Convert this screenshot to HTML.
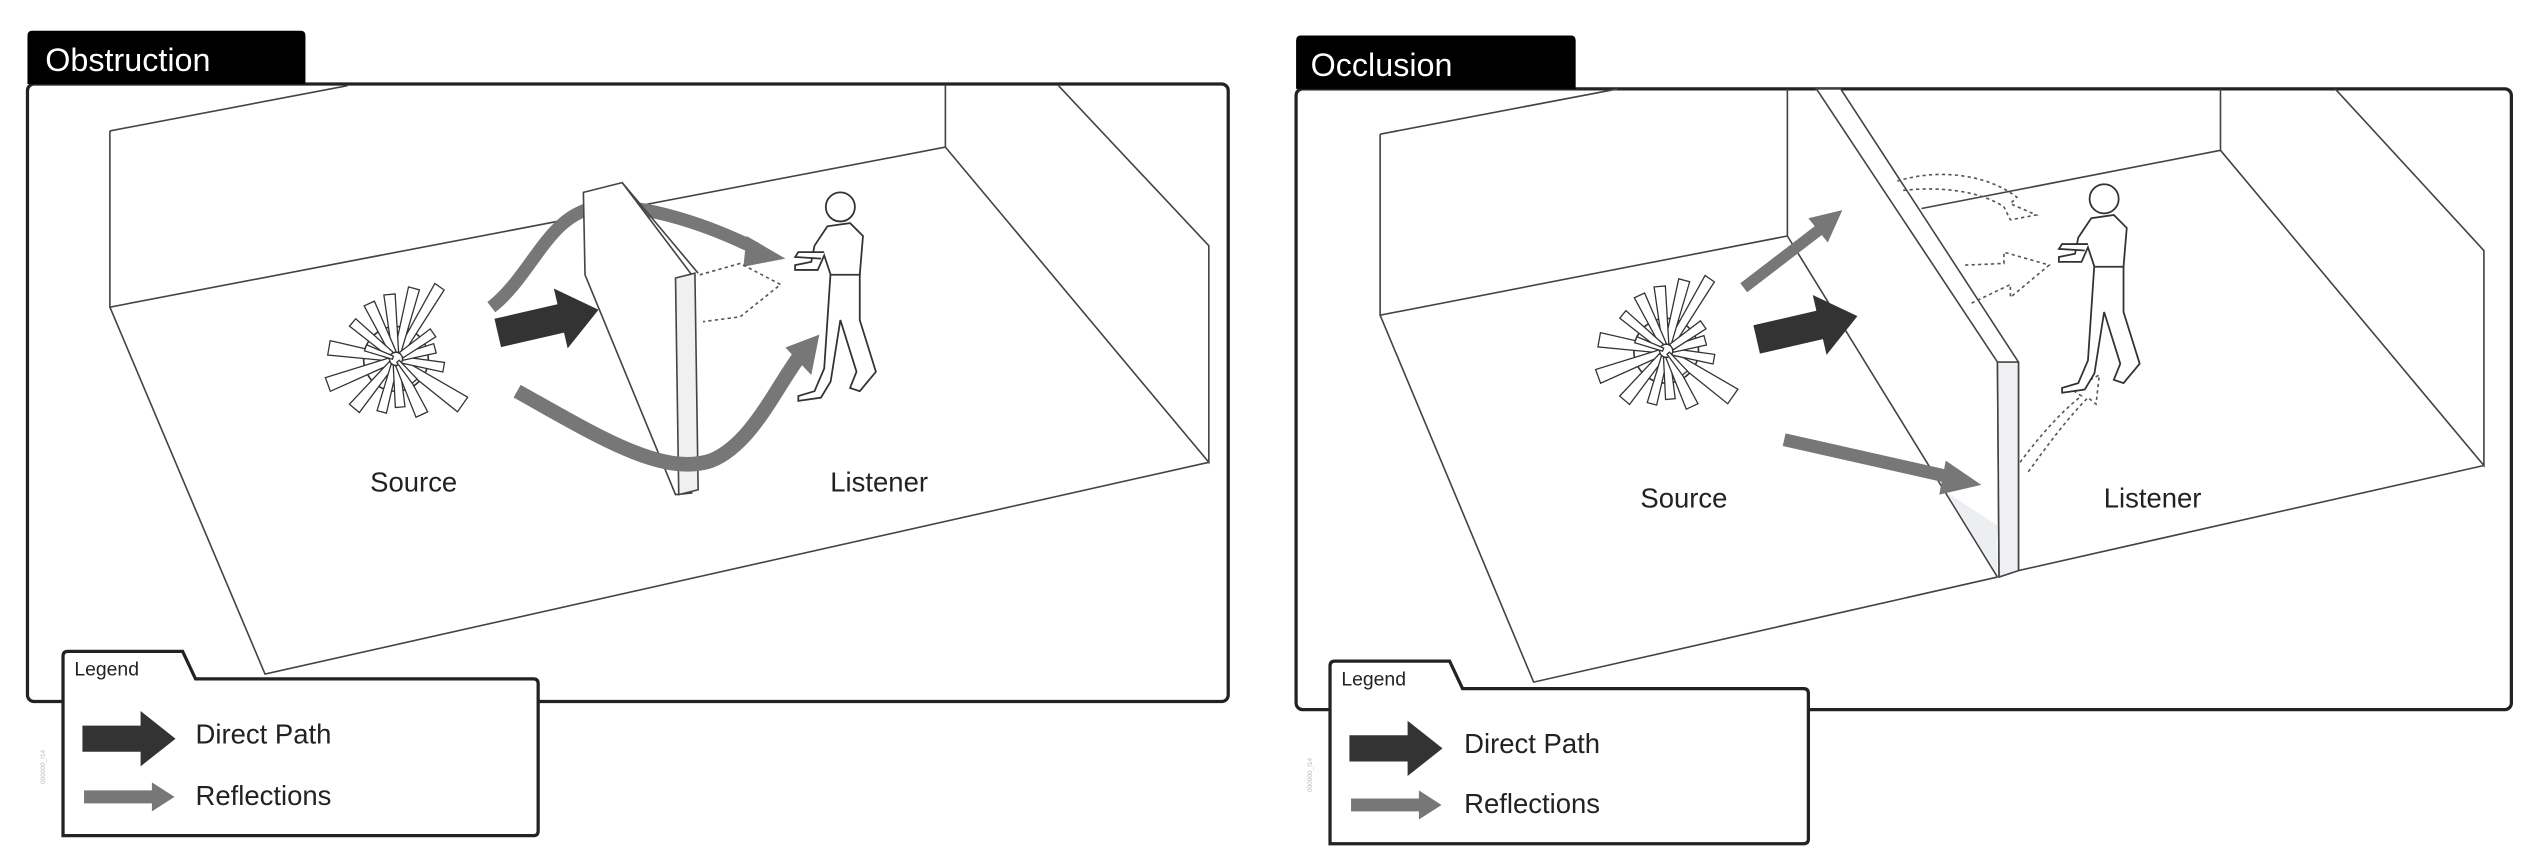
<!DOCTYPE html>
<html><head><meta charset="utf-8"><style>
html,body{margin:0;padding:0;background:#fff;width:2534px;height:868px;overflow:hidden}
svg{display:block}
text{font-family:"Liberation Sans",Arial,sans-serif}
</style></head><body>
<svg width="2534" height="868" viewBox="0 0 1568 537" preserveAspectRatio="none" xmlns="http://www.w3.org/2000/svg">
<defs>
<g id="burst" stroke="#333" stroke-width="0.8" fill="#fff">
<circle r="20" fill="none" stroke-width="1"/>
<polygon points="4,-2 52,-7 52,0 4,2" transform="rotate(-55)"/>
<polygon points="4,-2 45,-4 45,3 4,2" transform="rotate(-75)"/>
<polygon points="4,-2 40,-4 40,3 4,2" transform="rotate(-95)"/>
<polygon points="4,-2 38,-4 38,3 4,2" transform="rotate(-115)"/>
<polygon points="4,-2 35,-3 35,3 4,2" transform="rotate(-140)"/>
<polygon points="4,-2 42,-5 42,4 4,2" transform="rotate(-170)"/>
<polygon points="4,-2 45,-5 45,4 4,2" transform="rotate(160)"/>
<polygon points="4,-2 40,-4 40,4 4,2" transform="rotate(130)"/>
<polygon points="4,-2 34,-3 34,3 4,2" transform="rotate(105)"/>
<polygon points="4,-2 30,-3 30,3 4,2" transform="rotate(85)"/>
<polygon points="4,-2 38,-4 38,4 4,2" transform="rotate(65)"/>
<polygon points="4,-2 50,-6 50,5 4,2" transform="rotate(35)"/>
<polygon points="4,-2 30,-3 30,3 4,2" transform="rotate(10)"/>
<polygon points="4,-2 25,-3 25,3 4,2" transform="rotate(-15)"/>
<polygon points="4,-2 28,-3 28,3 4,2" transform="rotate(-35)"/>
<polygon points="2,-1 20,-2 20,2 2,1" transform="rotate(-160)"/>
<polygon points="2,-1 18,-2 18,2 2,1" transform="rotate(50)"/>
</g>
<path id="direct" d="M0,-9 L40,-9 L40,-19 L64,0 L40,19 L40,9 L0,9 Z" fill="#333"/>
<g id="person" fill="#fff" stroke="#333" stroke-width="1.1">
<path d="M14,50 L10,110 L4,124 L-6,127 L-6,130 L8,128 L14,118 L20,80 L30,112 L26,122 L32,124 L42,112 L32,80 L32,50 Z"/>
<path d="M12,22 L4,34 L2,44 L-8,46 L-8,49 L6,49 L10,40 L14,52 L32,52 L34,28 L26,20 Z"/>
<circle cx="20" cy="10" r="9"/>
<path d="M10,38 L-6,38 L-8,41 L8,42" />
</g>
</defs>

<!-- ================= LEFT PANEL ================= -->
<rect x="17" y="52" width="743" height="382" rx="4" fill="#fff" stroke="#222" stroke-width="2"/>
<path d="M17,52 L17,22 Q17,19 20,19 L186,19 Q189,19 189,22 L189,52 Z" fill="#000"/>
<text x="28" y="44" font-size="20" fill="#fff">Obstruction</text>

<g stroke="#444" stroke-width="1" fill="none">
<path d="M68,81 L215,53"/>
<path d="M68,81 L68,190 L585,91 L585,53"/>
<path d="M585,91 L748,286 L748,152 L655,53"/>
<path d="M68,190 L164,417 L748,286"/>
</g>

<!-- gray curves (behind wall) -->
<path d="M304,190 C330,170 340,130 372,128 C400,126 440,140 468,154" stroke="#777" stroke-width="8" fill="none"/>
<polygon points="462,146 486,160 460,165" fill="#777"/>

<!-- wall -->
<polygon points="361,119 385,113 428,170 428,305 418,306 362,170" fill="#fff" stroke="#444" stroke-width="1"/>
<polygon points="418,172 430,169 432,303 420,306" fill="#f0f0f2" stroke="#444" stroke-width="1"/>
<path d="M385,113 L432,169" stroke="#444" fill="none"/>

<use href="#burst" x="245" y="222"/>

<path d="M320,242 C370,270 410,295 440,285 C465,275 480,240 495,220" stroke="#777" stroke-width="9" fill="none"/>
<polygon points="486,215 507,207 502,232" fill="#777"/>
<use href="#direct" transform="translate(308,206) rotate(-13)"/>
<polyline points="433,170 458,163 483,176 458,196 435,199" fill="none" stroke="#555" stroke-width="1" stroke-dasharray="2,2"/>

<use href="#person" x="500" y="118"/>

<text x="256" y="304" font-size="17" text-anchor="middle" fill="#222">Source</text>
<text x="544" y="304" font-size="17" text-anchor="middle" fill="#222">Listener</text>

<!-- legend -->
<path d="M39,517 L39,406 Q39,403 42,403 L113,403 L121,420 L330,420 Q333,420 333,423 L333,514 Q333,517 330,517 Z" fill="#fff" stroke="#222" stroke-width="2"/>
<text x="46" y="418" font-size="12" fill="#222">Legend</text>
<use href="#direct" transform="translate(51,457) scale(0.9,0.9)"/>
<path d="M52,489 L94,489 L94,484 L108,493 L94,502 L94,497 L52,497 Z" fill="#777"/>
<text x="121" y="460" font-size="17" fill="#222">Direct Path</text>
<text x="121" y="498" font-size="17" fill="#222">Reflections</text>
<text x="28" y="485" font-size="4" fill="#bbb" transform="rotate(-90 28 485)">000000_f14</text>

<!-- ================= RIGHT PANEL ================= -->
<rect x="802" y="55" width="752" height="384" rx="4" fill="#fff" stroke="#222" stroke-width="2"/>
<path d="M802,55 L802,25 Q802,22 805,22 L972,22 Q975,22 975,25 L975,55 Z" fill="#000"/>
<text x="811" y="47" font-size="20" fill="#fff">Occlusion</text>

<g stroke="#444" stroke-width="1" fill="none">
<path d="M854,83 L1001,55"/>
<path d="M854,83 L854,195 L1106,146 L1106,55"/>
<path d="M1106,146 L1236,357"/>
<path d="M854,195 L949,422 L1236,357"/>
<path d="M1189,129 L1374,93 L1374,55"/>
<path d="M1374,93 L1537,288 L1537,155 L1445,55"/>
<path d="M1249,353 L1537,288"/>
</g>
<!-- partition -->
<polygon points="1124,55 1139,55 1249,224 1249,353 1237,357 1236,224" fill="#fff" stroke="#444" stroke-width="1"/>
<polygon points="1236,224 1249,224 1249,353 1237,357" fill="#f0f0f2" stroke="#444" stroke-width="1"/>
<polygon points="1205,305 1236,325 1236,355" fill="#eceef2"/>

<use href="#burst" x="1031" y="217"/>

<path d="M1079,178 L1126,142" stroke="#777" stroke-width="7" fill="none"/>
<polygon points="1119,135 1140,130 1131,150" fill="#777"/>
<path d="M1104,272 L1206,295" stroke="#777" stroke-width="8" fill="none"/>
<polygon points="1204,285 1226,300 1200,306" fill="#777"/>
<use href="#direct" transform="translate(1087,210) rotate(-13)"/>

<g fill="none" stroke="#555" stroke-width="1" stroke-dasharray="2,2">
<path d="M1174,112 C1200,104 1230,108 1248,122 L1244,126 L1260,133 L1244,136 L1240,128 C1225,118 1200,115 1176,118"/>
<polyline points="1216,164 1240,163 1240,156 1268,164 1244,184 1244,176 1219,188"/>
<path d="M1250,286 C1262,270 1275,255 1288,245 L1282,241 L1299,232 L1297,250 L1292,246 C1280,258 1268,274 1255,292"/>
</g>

<use href="#person" x="1282" y="113"/>

<text x="1042" y="314" font-size="17" text-anchor="middle" fill="#222">Source</text>
<text x="1332" y="314" font-size="17" text-anchor="middle" fill="#222">Listener</text>

<!-- legend -->
<path d="M823,522 L823,412 Q823,409 826,409 L897,409 L905,426 L1116,426 Q1119,426 1119,429 L1119,519 Q1119,522 1116,522 Z" fill="#fff" stroke="#222" stroke-width="2"/>
<text x="830" y="424" font-size="12" fill="#222">Legend</text>
<use href="#direct" transform="translate(835,463) scale(0.9,0.9)"/>
<path d="M836,494 L878,494 L878,489 L892,498 L878,507 L878,502 L836,502 Z" fill="#777"/>
<text x="906" y="466" font-size="17" fill="#222">Direct Path</text>
<text x="906" y="503" font-size="17" fill="#222">Reflections</text>
<text x="812" y="490" font-size="4" fill="#bbb" transform="rotate(-90 812 490)">000000_f14</text>
</svg>
</body></html>
